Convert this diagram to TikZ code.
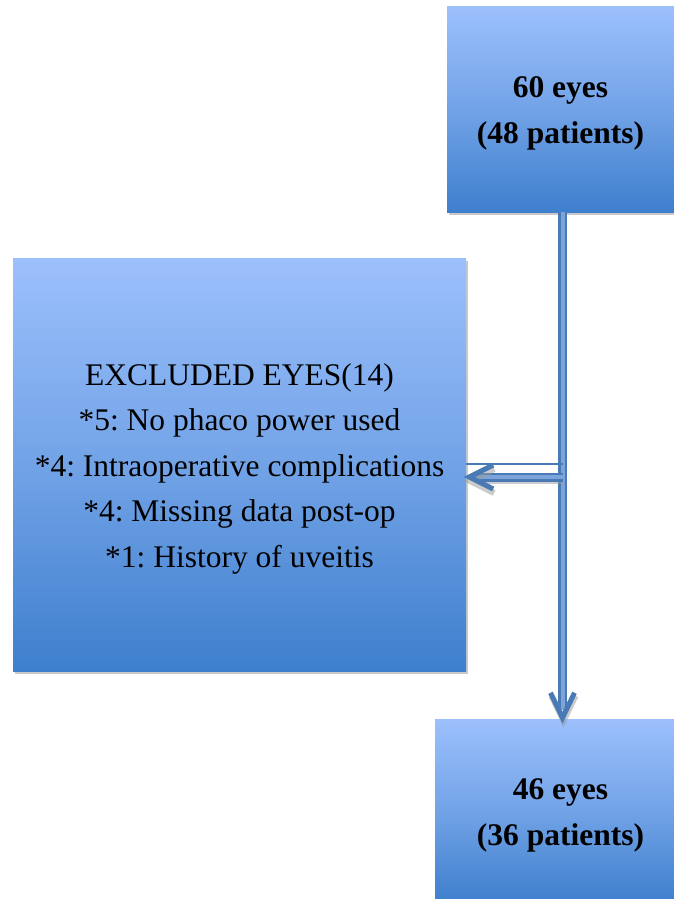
\documentclass[tikz,border=0pt]{standalone}
\usepackage{fontspec}
\setmainfont{Liberation Serif}
\usetikzlibrary{calc,shadows}
\definecolor{gtop}{RGB}{156,192,252}
\definecolor{gbot}{RGB}{62,127,205}
\definecolor{arr}{RGB}{74,122,182}
\definecolor{arrin}{RGB}{125,164,218}
\frenchspacing
\begin{document}
\begin{tikzpicture}[x=1pt,y=-1pt,
  box/.style={rectangle, inner sep=0pt, top color=gtop, bottom color=gbot, middle color=gtop!55!gbot,
    drop shadow={shadow xshift=2pt, shadow yshift=-3pt, opacity=0.35, fill=black!60}},
  boldtext/.style={font=\fontsize{31.5}{46}\selectfont\bfseries\frenchspacing, align=center, inner sep=0pt},
  plaintext/.style={font=\fontsize{31.5}{45.5}\selectfont\frenchspacing, align=center, inner sep=0pt},
  shaft/.style={draw=arr, double=arrin, double distance=4pt, line width=2.5pt},
  chev/.style={draw=arr, line width=5pt, miter limit=10},
  shad/.style={draw=black!40, opacity=0.5, line width=6pt}]
\useasboundingbox (0,0) rectangle (674,899);
\fill[white] (0,0) rectangle (674,899);
% boxes
\node[box, minimum width=227pt, minimum height=205pt] (a) at (560.5,109.5) {};
\node[box, minimum width=453pt, minimum height=413pt] (b) at (239.5,464.5) {};
\node[box, minimum width=251pt, minimum height=184pt] (c) at (560.5,811) {};
% texts
\node[boldtext] (at) at ($(a.center)+(0,4)$) {60 eyes\\(48 patients)};
\node[plaintext] (bt) at ($(b.center)+(0,4)$)
  {EXCLUDED EYES(14)\\*5: No phaco power used\\*4: Intraoperative complications\\*4: Missing data post-op\\*1: History of uveitis};
\node[boldtext] (ct) at ($(c.center)+(0,4)$) {46 eyes\\(36 patients)};
% vertical connector
\coordinate (v) at (562.5,0);
\coordinate (tipV) at ($(c.north -| v)+(0,-1)$);
\draw[shaft] (a.south -| v) -- ($(tipV)+(0,-8)$);
\draw[shad] ($(tipV)+(-11,-22)$) -- ($(tipV)+(1,3)$) -- ($(tipV)+(13,-22)$);
\draw[chev] ($(tipV)+(-12,-25)$) -- (tipV) -- ($(tipV)+(12,-25)$);
% horizontal connector
\coordinate (h1) at (0,464);
\coordinate (h2) at (0,477);
\draw[arr, line width=2pt] (h1 -| v) -- (h1 -| b.east);
\coordinate (tipH) at ($(h2 -| b.east)+(3,0)$);
\draw[shad] ($(h2 -| v)+(0,4)$) -- ($(tipH)+(8,4)$);
\draw[shaft] (h2 -| v) -- ($(tipH)+(6,0)$);
\draw[shad] ($(tipH)+(25,-8)$) -- ($(tipH)+(1,4)$) -- ($(tipH)+(25,16)$);
\draw[chev] ($(tipH)+(24,-12)$) -- (tipH) -- ($(tipH)+(24,12)$);
\end{tikzpicture}
\end{document}
